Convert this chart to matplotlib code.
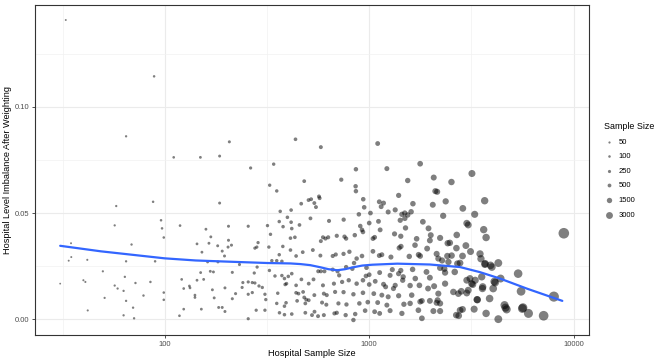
import numpy as np
import matplotlib
matplotlib.use('Agg')
import matplotlib.pyplot as plt

plt.rcParams['font.family'] = ['Liberation Sans', 'DejaVu Sans']

# small hospitals (< ~190 patients)
left_x = [30.8, 32.8, 33.9, 34.8, 34.9, 40.0, 40.9, 41.8, 42.0, 49.8,
          50.8, 56.9, 57.9, 56.9, 58.8, 62.9, 63.8, 64.7, 64.7, 64.7,
          62.9, 68.8, 70.0, 70.8, 71.9, 78.7, 85.1, 87.7, 88.7, 89.7,
          95.9, 97.0, 98.9, 98.9, 98.9, 110.6, 118, 118.8, 121, 123.8,
          123.8, 132, 132.9, 140.5, 140.5, 143.8, 143.8, 149.4, 149.8, 151,
          152, 155, 159, 162, 164.5, 167, 168, 171, 173, 174.5,
          183.5, 185.5, 185.5, 181.5, 182]
left_y = [.0168, .1408, .0276, .0358, .0293, .0184, .0176, .0280, .0042, .0226,
          .0101, .0442, .0533, .0159, .0145, .0134, .0200, .0861, .0273, .0087,
          .0019, .0352, .0055, .0005, .0171, .0112, .0176, .0553, .1143, .0273,
          .0466, .0428, .0385, .0126, .0092, .0762, .0017, .0441, .0188, .0145,
          .0048, .0157, .0148, .0114, .0103, .0355, .0184, .0762, .0220, .0048,
          .0316, .0188, .0424, .0270, .0358, .0226, .0388, .0139, .0223, .0101,
          .0056, .0768, .0547, .0346, .0270]

# 190 - 650
mid_x = [207, 263, 341, 326, 353, 436, 580, 481, 367, 415,
         465, 505, 520, 539, 549, 568, 572, 516, 398, 363,
         415, 636, 205, 256, 318, 379, 418, 456, 205, 212,
         204, 191, 196, 276, 282, 323, 286, 329, 412, 433,
         378, 412, 363, 334, 353, 374, 439, 473, 530, 577,
         594, 611, 630, 580, 232, 283, 214, 274, 325, 346,
         374, 385, 402, 418, 394, 388, 439, 466, 506, 534,
         580, 563, 604, 594, 241, 256, 268, 276, 289, 300,
         268, 256, 239, 222, 197, 214, 309, 312, 357, 353,
         392, 385, 439, 451, 475, 481, 492, 506, 487, 444,
         539, 600, 620, 588, 617, 191, 197, 280, 309, 364,
         385, 418, 487, 525, 540, 562, 600, 256]
mid_y = [.0835, .0712, .0730, .0631, .0604, .0847, .0810, .0650, .0508, .0514,
         .0544, .0561, .0565, .0547, .0528, .0578, .0570, .0475, .0480, .0460,
         .0457, .0463, .0438, .0438, .0441, .0436, .0427, .0444, .0372, .0349,
         .0340, .0321, .0298, .0335, .0340, .0340, .0361, .0400, .0382, .0386,
         .0343, .0326, .0304, .0276, .0276, .0273, .0298, .0316, .0326, .0300,
         .0386, .0380, .0386, .0368, .0258, .0246, .0221, .0218, .0230, .0204,
         .0206, .0192, .0202, .0215, .0168, .0164, .0160, .0188, .0168, .0188,
         .0226, .0226, .0226, .0160, .0173, .0176, .0173, .0171, .0157, .0150,
         .0126, .0118, .0150, .0121, .0148, .0097, .0118, .0093, .0123, .0075,
         .0078, .0062, .0125, .0121, .0129, .0103, .0093, .0090, .0075, .0087,
         .0114, .0121, .0114, .0079, .0069, .0056, .0037, .0043, .0043, .0031,
         .0022, .0025, .0031, .0020, .0036, .0015, .0020, .0003]

# 650 - 2700, upper part
upper_x = [1100, 861, 1220, 1775, 730, 858, 861, 1543, 2068, 2525,
           2106, 935, 1120, 1175, 1144, 945, 1393, 1636, 2046, 2366,
           890, 1014, 1238, 1340, 1445, 1492, 1543, 1603, 1418, 1494,
           2300, 750, 1000, 1110, 1830, 2150]
upper_y = [.0827, .0706, .0709, .0732, .0657, .0626, .0603, .0653, .0667, .0646,
           .0603, .0565, .0553, .0547, .0530, .0527, .0583, .0544, .0539, .0555,
           .0494, .0500, .0505, .0515, .0494, .0500, .0491, .0506, .0466, .0475,
           .0487, .0469, .0453, .0461, .0459, .0600]

# 650 - 2800, lower part
dense_x = [694, 757, 771, 850, 922, 932, 904, 1131, 1063, 1043,
           1330, 1427, 1505, 1706, 1675, 1950, 2000, 1980, 2222, 2420,
           2680, 1920, 1744, 2137, 2410, 2272, 2178, 663, 686, 749,
           800, 868, 922, 1043, 1120, 1153, 1277, 1402, 1430, 1570,
           1775, 2782, 663, 700, 713, 771, 827, 843, 970, 964,
           1000, 1125, 1265, 1297, 1393, 1427, 1466, 1630, 1680, 1906,
           1980, 2222, 2350, 2620, 2350, 672, 737, 794, 868, 932,
           1000, 1070, 1175, 1203, 1314, 1340, 1458, 1585, 1760, 1940,
           2077, 2178, 2137, 2222, 2160, 2730, 681, 749, 837, 932,
           1053, 1153, 1238, 1393, 1614, 1810, 1980, 707, 774, 895,
           984, 1100, 1220, 1478, 1585, 1775, 676, 694, 767, 854,
           955, 1063, 1125, 1265, 1445, 1740, 1810, 2060, 2222, 2665,
           837]
dense_y = [.0393, .0389, .0380, .0396, .0421, .0411, .0439, .0421, .0386, .0380,
           .0402, .0391, .0430, .0379, .0349, .0428, .0396, .0371, .0383, .0358,
           .0397, .0333, .0304, .0308, .0298, .0277, .0286, .0298, .0305, .0308,
           .0318, .0286, .0298, .0320, .0300, .0304, .0293, .0336, .0343, .0296,
           .0298, .0265, .0234, .0226, .0207, .0246, .0238, .0265, .0243, .0204,
           .0210, .0220, .0207, .0234, .0215, .0230, .0200, .0235, .0192, .0223,
           .0196, .0242, .0220, .0223, .0168, .0168, .0176, .0184, .0168, .0184,
           .0164, .0179, .0165, .0153, .0145, .0160, .0184, .0159, .0160, .0145,
           .0156, .0121, .0078, .0075, .0090, .0121, .0129, .0128, .0118, .0125,
           .0121, .0114, .0106, .0111, .0114, .0087, .0087, .0075, .0070, .0075,
           .0081, .0079, .0067, .0071, .0075, .0083, .0028, .0031, .0020, .0025,
           .0041, .0036, .0028, .0041, .0028, .0043, .0005, .0039, .0039, .0020,
           -.0003]

# large hospitals
right_x = [3180, 3670, 2870, 3280, 3000, 3050, 3630, 3730, 2970, 3130,
           3483, 3520, 3690, 4280, 3920, 5350, 4390, 4090, 4040, 5530,
           8000, 8950, 3590, 3380, 3880, 4590, 4640, 5650, 6010, 7130,
           4280, 3730, 3260, 2782, 2740, 3170, 3110, 3050, 2820, 2580,
           2700, 2670, 2480, 2860, 2530, 2440, 2330, 3680, 3980, 3550,
           3210, 3000, 3300, 4130, 3580, 3000, 3370, 4700, 5610, 2860]
right_y = [.0686, .0558, .0522, .0494, .0452, .0444, .0422, .0385, .0347, .0319,
           .0308, .0285, .0262, .0265, .0254, .0215, .0192, .0178, .0145, .0132,
           .0107, .0405, .0153, .0092, .0098, .0067, .0055, .0055, .0028, .0017,
           .0001, .0028, .0048, .0043, .0017, .0168, .0192, .0137, .0132, .0129,
           .0262, .0335, .0360, .0298, .0300, .0270, .0238, .0259, .0246, .0200,
           .0164, .0184, .0184, .0173, .0145, .0124, .0093, .0047, .0051, .0047]

# loess curve
smooth_x = [30.8, 48.7, 100, 141.6, 210, 318, 412, 461, 515, 577,
            632, 699, 762, 836, 924, 1035, 1373, 1980, 2782, 3483,
            4361, 5890, 8800]
smooth_y = [.0346, .0320, .0287, .0277, .0271, .0265, .0263, .0260, .0255, .0245,
            .0236, .0231, .0236, .0245, .0253, .0257, .0262, .0258, .0246, .0222,
            .0192, .0145, .0087]

legend_sizes = [50, 100, 250, 500, 1500, 3000]

x = np.array(left_x + mid_x + upper_x + dense_x + right_x, dtype=float)
y = np.array(left_y + mid_y + upper_y + dense_y + right_y, dtype=float)
xmin, xmax = x.min(), x.max()


def marker_area(v):
    # diametre en pixels (echelle sqrt comme ggplot), converti en pt^2
    d_px = 1.8 + 8.8 * np.sqrt(np.clip((np.asarray(v, float) - xmin) / (xmax - xmin), 0, None))
    return (d_px * 72 / 100) ** 2


W, H = 664, 363
fig = plt.figure(figsize=(W / 100, H / 100), dpi=100)
ax = fig.add_axes([35 / W, 1 - 335 / H, (589 - 35) / W, (335 - 5) / H])

ax.scatter(x, y, s=marker_area(x), c='black', alpha=0.5, linewidths=0, zorder=3)
ax.plot(smooth_x, smooth_y, color='#3366FF', lw=1.6, zorder=4, solid_capstyle='round')

ax.set_xscale('log')
lx0, lx1 = np.log10(xmin), np.log10(xmax)
ax.set_xlim(10 ** (lx0 - 0.05 * (lx1 - lx0)), 10 ** (lx1 + 0.05 * (lx1 - lx0)))
ax.set_ylim(y.min() - 0.05 * (y.max() - y.min()), y.max() + 0.05 * (y.max() - y.min()))

ax.set_xticks([100, 1000, 10000])
ax.set_xticklabels(['100', '1000', '10000'])
ax.set_xticks([10 ** 1.5, 10 ** 2.5, 10 ** 3.5], minor=True)
ax.set_yticks([0, 0.05, 0.10])
ax.set_yticklabels(['0.00', '0.05', '0.10'])
ax.set_yticks([0.025, 0.075, 0.125], minor=True)
ax.tick_params(axis='x', which='minor', length=0, labelbottom=False)
ax.tick_params(axis='y', which='minor', length=0, labelleft=False)
ax.tick_params(which='major', length=2.5, width=0.6, color='#333333',
               labelsize=5.5, labelcolor='#4D4D4D', pad=1.5)

ax.grid(True, which='major', color='#EBEBEB', lw=0.8, zorder=0)
ax.grid(True, which='minor', color='#F2F2F2', lw=0.5, zorder=0)
ax.set_axisbelow(True)
for sp in ax.spines.values():
    sp.set_color('#333333')
    sp.set_linewidth(0.8)

fig.text(312 / W, 1 - 353 / H, 'Hospital Sample Size', ha='center', va='center', fontsize=6.6)
fig.text(8 / W, 1 - 170 / H, 'Hospital Level Imbalance After Weighting', ha='center', va='center',
         rotation=90, fontsize=6.6)

handles = [ax.scatter([], [], s=marker_area(v), c='black', alpha=0.5, linewidths=0) for v in legend_sizes]
leg = ax.legend(handles, [str(v) for v in legend_sizes], title='Sample Size',
                loc='upper left', bbox_to_anchor=(604 / W, 1 - 122 / H),
                bbox_transform=fig.transFigure, frameon=False, fontsize=5.5,
                title_fontsize=6.4, labelspacing=0.95, handletextpad=0.7,
                borderpad=0, borderaxespad=0, handlelength=1.2)
leg._legend_box.align = 'left'

fig.savefig('out.png', dpi=100)
